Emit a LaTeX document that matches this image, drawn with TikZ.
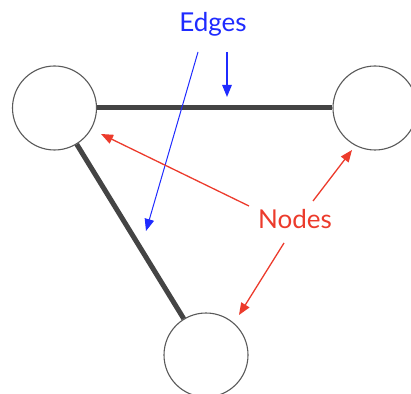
\documentclass[tikz,border=0pt]{standalone}
\usepackage{fontspec}
\setmainfont{Lato}
\usepackage{xcolor}
\usetikzlibrary{arrows.meta}
\definecolor{edgeblue}{HTML}{1F2BFF}
\definecolor{nodered}{HTML}{EC3B2C}
\definecolor{ringgray}{HTML}{5A5A5A}
\definecolor{linkgray}{HTML}{444444}

\begin{document}
\begin{tikzpicture}[x=1pt, y=1pt,
  vertex/.style={circle, draw=ringgray, line width=1.1pt, minimum size=84pt, inner sep=0pt, fill=white},
  link/.style={draw=linkgray, line width=5pt},
  label/.style={font=\fontsize{26}{30}\selectfont, anchor=base},
  pointer/.style={-{Triangle[length=12pt, width=9.5pt]}, line width=1.3pt}]
  \useasboundingbox (0,0) rectangle (411,393);
  % the three vertices, the right and bottom ones run off the page
  \node[vertex] (lv) at (54.5,285) {};
  \node[vertex] (rv) at (375,285) {};
  \node[vertex] (bv) at (206,38) {};
  \draw[link] (lv) -- (rv);
  \draw[link] (lv) -- (bv);
  % captions
  \node[label, text=edgeblue] (edges) at (213,361) {Edges};
  \node[label, text=nodered] (nodes) at (295,164) {Nodes};
  % ends of the pointers
  \coordinate (e1) at (227,341);
  \coordinate (e1t) at (227,296);
  \coordinate (e2) at (198,341);
  \coordinate (e2t) at (146,162);
  \coordinate (n1) at (249,187);
  \coordinate (n1t) at (101,259);
  \coordinate (n2) at (313,192);
  \coordinate (n2t) at (352,243);
  \coordinate (n3) at (284,150);
  \coordinate (n3t) at (239,78);
  \draw[pointer, edgeblue] (e1) -- (e1t);
  \draw[pointer, edgeblue, line width=1pt] (e2) -- (e2t);
  \draw[pointer, nodered] (n1) -- (n1t);
  \draw[pointer, nodered] (n2) -- (n2t);
  \draw[pointer, nodered] (n3) -- (n3t);
\end{tikzpicture}
\end{document}
